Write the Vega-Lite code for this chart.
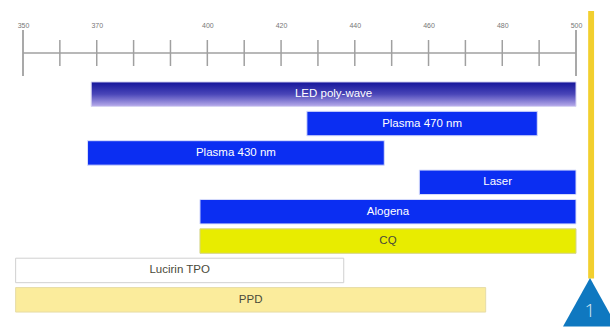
{
  "$schema": "https://vega.github.io/schema/vega-lite/v6.json",
  "padding": {"left": 15, "top": 10, "right": 0, "bottom": 0},
  "bounds": "flush",
  "spacing": 3.5,
  "background": "white",
  "config": {"view": {"stroke": null}, "font": "Liberation Sans"},
  "datasets": {
    "bars": [
      {"name": "LED poly-wave", "start": 368.5, "end": 500},
      {"name": "Plasma 470 nm", "start": 427, "end": 489.5},
      {"name": "Plasma 430 nm", "start": 367.5, "end": 448},
      {"name": "Laser", "start": 457.5, "end": 500},
      {"name": "Alogena", "start": 398, "end": 500},
      {"name": "CQ", "start": 398, "end": 500},
      {"name": "Lucirin TPO", "start": 348, "end": 437},
      {"name": "PPD", "start": 348, "end": 475.5}
    ],
    "ticks": [
      {"wl": 360}, {"wl": 370}, {"wl": 380}, {"wl": 390}, {"wl": 400}, {"wl": 410}, {"wl": 420},
      {"wl": 430}, {"wl": 440}, {"wl": 450}, {"wl": 460}, {"wl": 470}, {"wl": 480}, {"wl": 490}
    ],
    "ends": [{"wl": 350}, {"wl": 500}]
  },
  "vconcat": [
    {
      "width": 553,
      "height": 46,
      "layer": [
        {
          "data": {"values": [{}]},
          "mark": {"type": "rule", "color": "#a0a0a0", "strokeWidth": 1.5},
          "encoding": {
            "x": {"datum": 350, "type": "quantitative",
              "scale": {"domain": [350, 500], "nice": false, "zero": false},
              "axis": {"orient": "top", "values": [350, 370, 400, 420, 440, 460, 480, 500],
                "domain": false, "ticks": false, "tickSize": 0, "labelPadding": 2,
                "labelFontSize": 7, "labelColor": "#777777", "grid": false, "title": null,
                "labelFlush": false, "labelOverlap": false}},
            "x2": {"datum": 500},
            "y": {"datum": 0, "type": "quantitative", "scale": {"domain": [-1, 1], "nice": false, "zero": false}, "axis": null}
          }
        },
        {
          "data": {"name": "ticks"},
          "mark": {"type": "rule", "color": "#a0a0a0", "strokeWidth": 1.5},
          "encoding": {
            "x": {"field": "wl", "type": "quantitative"},
            "y": {"datum": 0.565, "type": "quantitative"},
            "y2": {"datum": -0.565}
          }
        },
        {
          "data": {"name": "ends"},
          "mark": {"type": "rule", "color": "#a0a0a0", "strokeWidth": 1.8},
          "encoding": {
            "x": {"field": "wl", "type": "quantitative"},
            "y": {"datum": 1, "type": "quantitative"},
            "y2": {"datum": -1}
          }
        },
        {
          "data": {"values": [{}]},
          "mark": {"type": "rect", "color": "#f2cf2e"},
          "encoding": {
            "x": {"datum": 503.3, "type": "quantitative"},
            "x2": {"datum": 504.9},
            "y": {"datum": 1.83, "type": "quantitative"},
            "y2": {"datum": -9.8}
          }
        },
        {
          "data": {"values": [{}]},
          "mark": {"type": "point", "shape": "M-1,0.9L1,0.9L0,-0.9Z", "filled": true, "size": 2916, "color": "#0f78c0", "opacity": 1},
          "encoding": {
            "x": {"datum": 503.8, "type": "quantitative"},
            "y": {"datum": -10.84, "type": "quantitative"}
          }
        },
        {
          "data": {"values": [{}]},
          "mark": {"type": "text", "text": "1", "fontSize": 19, "font": "Open Sans", "fontWeight": 300, "color": "#d8e8f4", "baseline": "middle", "align": "center"},
          "encoding": {
            "x": {"datum": 503.8, "type": "quantitative"},
            "y": {"datum": -11.2, "type": "quantitative"}
          }
        }
      ]
    },
    {
      "width": 553,
      "height": 235,
      "data": {"name": "bars"},
      "encoding": {
        "y": {"field": "name", "type": "nominal",
          "scale": {"domain": ["LED poly-wave", "Plasma 470 nm", "Plasma 430 nm", "Laser", "Alogena", "CQ", "Lucirin TPO", "PPD"],
            "paddingInner": 0.167, "paddingOuter": 0.083},
          "axis": null}
      },
      "layer": [
        {
          "transform": [{"filter": "datum.name === 'LED poly-wave'"}],
          "mark": {"type": "bar", "stroke": "#d6d4f2", "strokeWidth": 1,
            "fill": {"gradient": "linear", "x1": 0, "y1": 0, "x2": 0, "y2": 1,
              "stops": [{"offset": 0, "color": "#14149a"}, {"offset": 0.5, "color": "#4a46b8"}, {"offset": 1, "color": "#b8aceb"}]}},
          "encoding": {
            "x": {"field": "start", "type": "quantitative", "scale": {"domain": [350, 500], "nice": false, "zero": false}, "axis": null},
            "x2": {"field": "end"}
          }
        },
        {
          "transform": [{"filter": "datum.name !== 'LED poly-wave'"}],
          "mark": {"type": "bar", "strokeWidth": 1},
          "encoding": {
            "x": {"field": "start", "type": "quantitative", "scale": {"domain": [350, 500], "nice": false, "zero": false}, "axis": null},
            "x2": {"field": "end"},
            "fill": {"field": "name", "type": "nominal", "legend": null,
              "scale": {"domain": ["Plasma 470 nm", "Plasma 430 nm", "Laser", "Alogena", "CQ", "Lucirin TPO", "PPD"],
                "range": ["#0b2ef2", "#0b2ef2", "#0b2ef2", "#0b2ef2", "#e8ec00", "#ffffff", "#fbec9c"]}},
            "stroke": {"field": "name", "type": "nominal", "legend": null,
              "scale": {"domain": ["Plasma 470 nm", "Plasma 430 nm", "Laser", "Alogena", "CQ", "Lucirin TPO", "PPD"],
                "range": ["#d8ddfb", "#d8ddfb", "#d8ddfb", "#d8ddfb", "#d4d48a", "#d0d0d0", "#e6dca6"]}}
          }
        },
        {
          "transform": [
            {"filter": {"field": "name", "oneOf": ["LED poly-wave", "Plasma 470 nm", "Plasma 430 nm", "Laser", "Alogena"]}},
            {"fold": ["start", "end"], "as": ["k", "v"]}
          ],
          "mark": {"type": "text", "color": "white", "fontSize": 11.5, "align": "center", "baseline": "middle"},
          "encoding": {
            "x": {"field": "v", "type": "quantitative", "aggregate": "mean"},
            "text": {"field": "name", "type": "nominal"}
          }
        },
        {
          "transform": [
            {"filter": {"field": "name", "oneOf": ["CQ", "Lucirin TPO", "PPD"]}},
            {"fold": ["start", "end"], "as": ["k", "v"]}
          ],
          "mark": {"type": "text", "color": "#4a4a3a", "fontSize": 11.5, "align": "center", "baseline": "middle"},
          "encoding": {
            "x": {"field": "v", "type": "quantitative", "aggregate": "mean"},
            "text": {"field": "name", "type": "nominal"}
          }
        }
      ]
    }
  ]
}
